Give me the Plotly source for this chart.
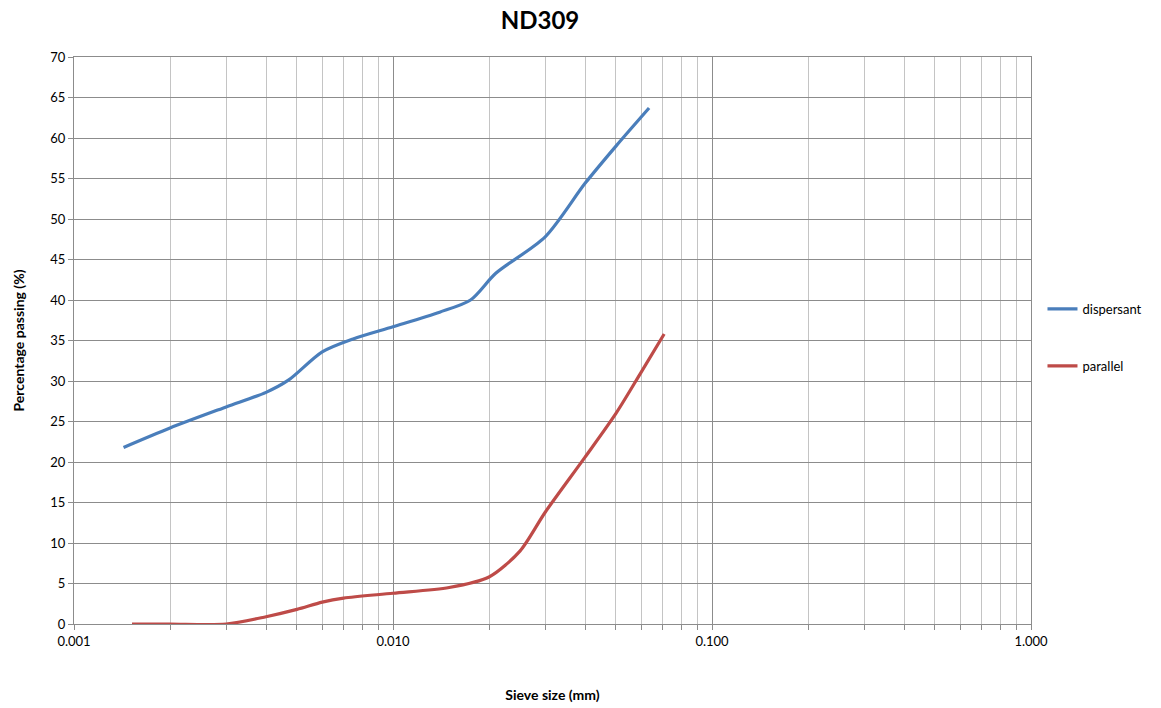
import plotly.graph_objects as go

# Grain size distribution for sample ND309
disp_size = [0.00143, 0.0020, 0.0030, 0.0040, 0.0047, 0.0060, 0.0075, 0.010, 0.014, 0.0175, 0.021, 0.030, 0.040, 0.050, 0.0635]
disp_pass = [21.8, 24.2, 26.8, 28.6, 30.1, 33.6, 35.2, 36.7, 38.5, 40.0, 43.3, 47.8, 54.4, 59.0, 63.7]

par_size = [0.00152, 0.0020, 0.0030, 0.0040, 0.0050, 0.0060, 0.0070, 0.010, 0.015, 0.020, 0.025, 0.030, 0.040, 0.050, 0.060, 0.0708]
par_pass = [0.0, 0.0, 0.0, 0.9, 1.8, 2.7, 3.2, 3.8, 4.5, 5.8, 9.0, 13.8, 20.6, 26.0, 31.1, 35.8]

decades = [0.001, 0.01, 0.1, 1.0]
decade_labels = ["0.001", "0.010", "0.100", "1.000"]
minor_vals = [m * d for d in decades[:-1] for m in range(2, 10)]
y_ticks = list(range(0, 75, 5))

FONT = "Lato, Open Sans, sans-serif"

fig = go.Figure()
fig.add_trace(go.Scatter(
    x=disp_size, y=disp_pass, mode="lines", name="dispersant",
    line=dict(color="#4A7EBB", width=3.2, shape="spline", smoothing=0.8),
    legendgroup="a",
))
fig.add_trace(go.Scatter(
    x=par_size, y=par_pass, mode="lines", name="parallel",
    line=dict(color="#BE4B48", width=3.2, shape="spline", smoothing=0.8),
    legendgroup="b",
))

fig.update_layout(
    width=1161, height=708,
    margin=dict(l=74, r=130, t=57, b=84),
    paper_bgcolor="white", plot_bgcolor="white",
    font=dict(family=FONT, size=12, color="#000000"),
    title=dict(text="<b>ND309</b>", x=540 / 1161, xanchor="center", xref="container",
               y=1 - 21 / 708, yanchor="middle",
               font=dict(size=24, family=FONT, color="#000000")),
    legend=dict(x=1.012, xanchor="left", y=0.5 + 3 / 567, yanchor="middle",
                font=dict(size=13, family=FONT), tracegroupgap=37,
                traceorder="grouped", itemwidth=30, bgcolor="rgba(0,0,0,0)"),
    showlegend=True,
)

fig.update_xaxes(
    type="log", range=[-3, 0], automargin=False,
    tickvals=decades, ticktext=decade_labels,
    showgrid=True, gridcolor="#8C8C8C", gridwidth=1,
    minor=dict(tickvals=minor_vals, showgrid=True, gridcolor="#C4C4C4",
               gridwidth=1, ticks="outside", ticklen=5, tickcolor="#8C8C8C"),
    ticks="outside", ticklen=5, tickcolor="#8C8C8C",
    showline=True, linecolor="#8C8C8C", linewidth=1, mirror=True,
    zeroline=False,
    tickfont=dict(size=13, family=FONT),
    title=dict(text="<b>Sieve size (mm)</b>", font=dict(size=14, family=FONT), standoff=42),
)
fig.update_yaxes(
    range=[0, 70], tickvals=y_ticks, automargin=False,
    showgrid=True, gridcolor="#8C8C8C", gridwidth=1,
    ticks="outside", ticklen=5, tickcolor="#8C8C8C",
    showline=True, linecolor="#8C8C8C", linewidth=1, mirror=True,
    zeroline=False,
    tickfont=dict(size=13, family=FONT),
    title=dict(text="<b>Percentage passing (%)</b>", font=dict(size=14, family=FONT), standoff=22),
)

fig.write_html("out.html")
